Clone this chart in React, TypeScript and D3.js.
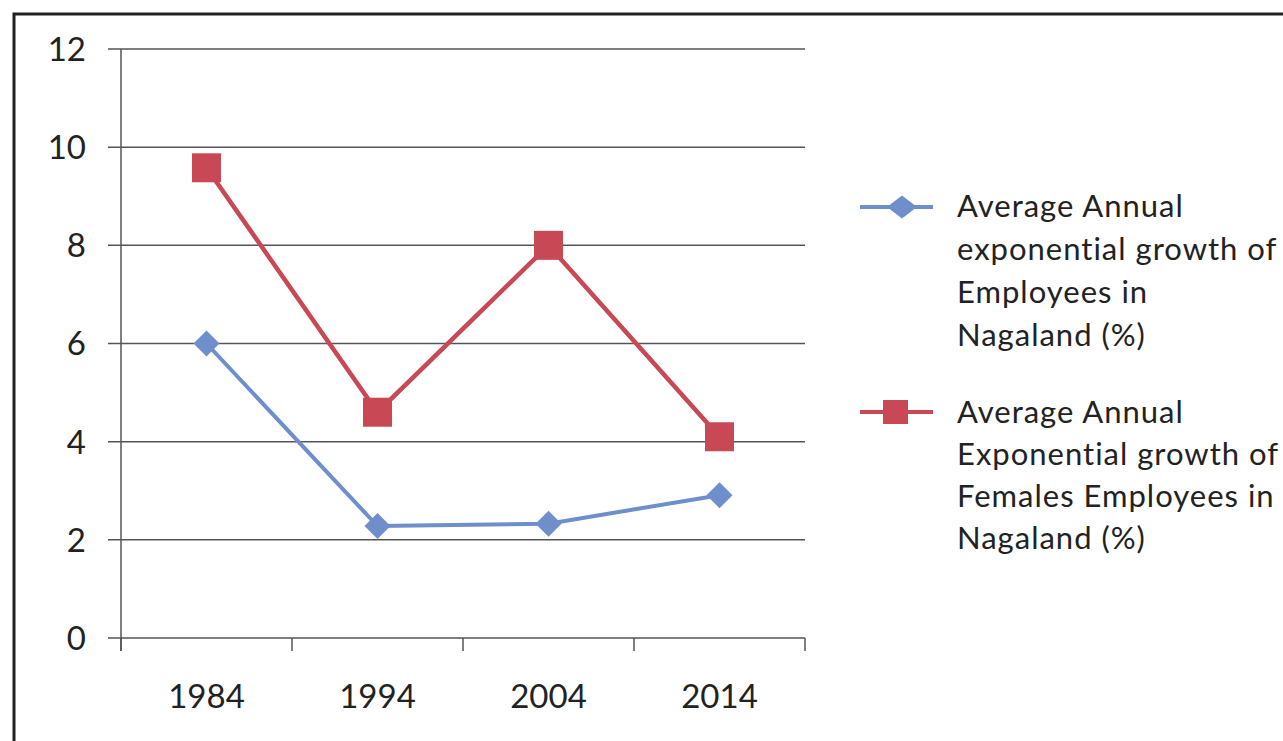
import React from "react";
import * as d3 from "d3";

const years = ["1984", "1994", "2004", "2014"];
const employees = [6.0, 2.28, 2.33, 2.91];
const femaleEmployees = [9.58, 4.6, 8.0, 4.1];
const yTicks = [0, 2, 4, 6, 8, 10, 12];
const legend1 = ["Average Annual", "exponential growth of", "Employees in", "Nagaland (%)"];
const legend2 = ["Average Annual", "Exponential growth of", "Females Employees in", "Nagaland (%)"];

const BLUE = "#6F8FCC";
const RED = "#C84855";
const FONT = "Lato, 'Open Sans', sans-serif";

export default function App() {
  const x = d3.scaleBand<string>().domain(years).range([121, 805]);
  const y = d3.scaleLinear().domain([0, 12]).range([638, 49]);
  const cx = (d: string) => (x(d) as number) + x.bandwidth() / 2;
  const line = d3
    .line<number>()
    .x((_, i) => cx(years[i]))
    .y((v) => y(v));
  const diamond = (px: number, py: number, w: number, h: number) =>
    `M${px},${py - h / 2}L${px + w / 2},${py}L${px},${py + h / 2}L${px - w / 2},${py}Z`;
  const xEdges = [...years.map((d) => x(d) as number), 805];

  return (
    <svg
      width={1283}
      height={741}
      style={{ position: "absolute", left: 0, top: 0, background: "#fff" }}
      fontFamily={FONT}
    >
      <rect x={14} y={14} width={1300} height={800} fill="none" stroke="#222" strokeWidth={3} />
      {yTicks.map((t) => (
        <g key={t}>
          <line x1={108} x2={805} y1={y(t)} y2={y(t)} stroke="#555" strokeWidth={1.5} />
          <text x={86} y={y(t)} dy="0.36em" textAnchor="end" fontSize={33} fill="#222">
            {t}
          </text>
        </g>
      ))}
      <line x1={121} x2={121} y1={y(12)} y2={651} stroke="#555" strokeWidth={1.5} />
      {xEdges.map((e, i) => (
        <line key={i} x1={e} x2={e} y1={638} y2={651} stroke="#555" strokeWidth={1.5} />
      ))}
      {years.map((d) => (
        <text key={d} x={cx(d)} y={708} textAnchor="middle" fontSize={33} fill="#222">
          {d}
        </text>
      ))}
      <path d={line(employees) || ""} fill="none" stroke={BLUE} strokeWidth={4} />
      {employees.map((v, i) => (
        <path key={i} d={diamond(cx(years[i]), y(v), 26, 26)} fill={BLUE} />
      ))}
      <path d={line(femaleEmployees) || ""} fill="none" stroke={RED} strokeWidth={4.5} />
      {femaleEmployees.map((v, i) => (
        <rect key={i} x={cx(years[i]) - 14.5} y={y(v) - 14.5} width={29} height={29} fill={RED} />
      ))}
      <g>
        <line x1={860} x2={933} y1={207} y2={207} stroke={BLUE} strokeWidth={4} />
        <path d={diamond(902, 207, 30, 23)} fill={BLUE} />
        {legend1.map((t, i) => (
          <text key={i} x={957} y={217 + i * 43} fontSize={31} letterSpacing={1} fill="#222">
            {t}
          </text>
        ))}
      </g>
      <g>
        <line x1={860} x2={933} y1={412} y2={412} stroke={RED} strokeWidth={4} />
        <rect x={883} y={400} width={25} height={24} fill={RED} />
        {legend2.map((t, i) => (
          <text key={i} x={957} y={423 + i * 42} fontSize={31} letterSpacing={1} fill="#222">
            {t}
          </text>
        ))}
      </g>
    </svg>
  );
}
